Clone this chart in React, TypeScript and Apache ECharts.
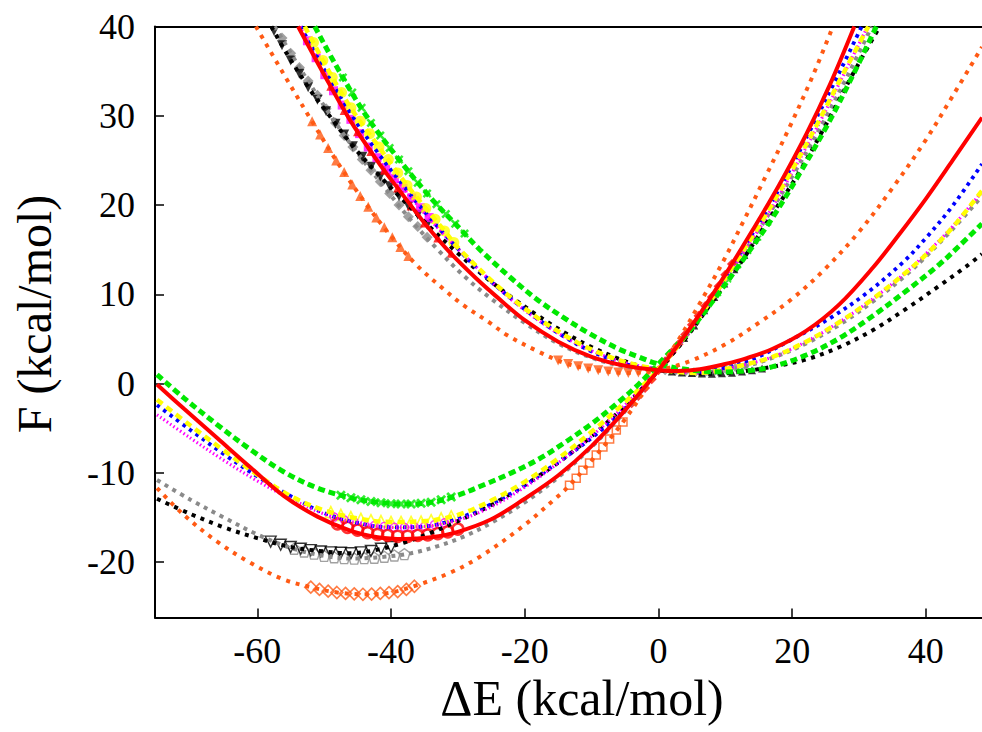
import React, { useEffect, useRef } from 'react';
import * as echarts from 'echarts';

const xTicks = [-60, -40, -20, 0, 20, 40];
const yTicks = [-20, -10, 0, 10, 20, 30, 40];

// ---- curves: A = right-minimum state, B = left-minimum state ----
const grayA = [[-57.4,40],[-53,34.6],[-49,30.0],[-45.5,26.3],[-41,22.0],[-37,18.3],[-33,15.0],[-29,12.0],[-25,9.5],[-20,6.8],[-15,4.5],[-10,2.9],[-5,1.9],[0,1.5],[6,1.2],[12.2,1.8],[17.1,2.9],[22.1,4.5],[27.1,6.6],[32.1,9.2],[37.1,12.2],[40.1,14.3],[44,17.3],[48.4,21.0]];
const grayB = [[-75,-10.8],[-70,-13.0],[-65,-15.0],[-60,-16.9],[-55,-18.4],[-50,-19.3],[-45.5,-19.6],[-41,-19.4],[-37,-19.0],[-33,-18.2],[-29,-17.1],[-25,-15.6],[-20,-13.3],[-15,-10.5],[-10,-7.1],[-5,-3.1],[0,1.5],[4.0,5.2],[7.6,9.0],[11.8,13.6],[16.2,18.6],[20.4,23.7],[24.6,29.2],[28.3,34.5],[31.9,40]];
const blackA = [[-57.9,40],[-55.7,37.1],[-52,32.8],[-49.7,30.5],[-45.7,26.6],[-42,23.5],[-38,20.4],[-34,17.4],[-30,14.6],[-26,12.0],[-22,9.7],[-18,7.6],[-14,5.7],[-10,4.1],[-6,2.8],[-3,2.0],[0,1.5],[4,1.2],[8,1.1],[12,1.3],[17.1,1.9],[22.1,2.7],[27.1,4.1],[32.1,6.0],[37.1,8.4],[42.1,11.0],[46,13.1],[48.4,14.5]];
const blackB = [[-75,-12.9],[-70,-14.6],[-65,-16.1],[-60,-17.3],[-55,-18.3],[-50,-18.8],[-46,-19.0],[-42,-18.6],[-38,-17.8],[-34,-16.7],[-30,-15.4],[-26,-14.0],[-22,-12.3],[-18,-10.4],[-14,-8.3],[-10,-5.9],[-6,-3.2],[-3,-1.0],[0,1.5],[4.1,5.1],[7.7,8.8],[12.1,13.3],[16.6,18.5],[21.0,23.6],[25.2,29.2],[29.1,34.7],[33.1,40]];
const blueA = [[-53.5,40],[-50,35.2],[-46,30.2],[-42,25.9],[-38,22.0],[-34,18.4],[-30,15.1],[-26,12.1],[-22,9.5],[-18,7.2],[-14,5.2],[-10,3.6],[-5,2.2],[0,1.6],[5,1.3],[10,1.8],[14.6,2.9],[19.6,4.8],[25.6,7.3],[31.1,10.1],[36.6,13.6],[40,16.3],[44,19.9],[48.4,24.6]];
const blueB = [[-75,-2.4],[-70,-5.2],[-65,-7.9],[-60,-10.4],[-55,-12.6],[-50,-14.5],[-45,-15.6],[-40,-16.1],[-35,-16.0],[-30,-15.1],[-25,-13.5],[-20,-11.4],[-15,-8.8],[-10,-6.1],[-5,-2.8],[0,1.6],[3.8,5.2],[7.2,8.8],[11.2,13.4],[15.3,18.3],[19.4,23.6],[23.2,29.1],[26.9,34.6],[30.4,40]];
const magentaA = [[-53.6,40],[-49.2,33.6],[-43.7,26.8],[-38.2,21.9],[-33.7,18.0],[-28,13.6],[-21,8.8],[-14,5.2],[-7,2.8],[0,1.6],[6,1.2],[12.2,2.0],[17.1,3.0],[22.1,4.7],[27.1,6.9],[32.1,9.5],[37.1,12.5],[40.1,14.6],[44,17.6],[48.4,21.5]];
const magentaB = [[-75,-3.5],[-70,-6.1],[-65,-8.6],[-60,-10.9],[-55,-12.9],[-50,-14.6],[-45,-15.6],[-40,-16.1],[-35,-16.0],[-30,-15.3],[-25,-13.8],[-20,-11.6],[-15,-8.9],[-10,-5.9],[-5,-2.4],[0,1.6],[3.9,5.1],[7.4,8.7],[11.5,13.3],[15.8,18.2],[19.9,23.5],[24.0,29.1],[27.7,34.6],[31.3,40]];
const yellowA = [[-52.9,40],[-48.4,33.8],[-45.4,30.2],[-42.2,26.9],[-39.2,23.8],[-36.2,20.9],[-32.2,17.3],[-29.7,15.0],[-22,9.6],[-14,5.4],[-7,2.9],[0,1.6],[6,1.2],[12.2,2.0],[17.1,3.0],[22.1,4.7],[27.1,6.9],[32.1,9.5],[37.1,12.5],[40.1,14.5],[44,17.5],[48.4,21.6]];
const yellowB = [[-75,-1.8],[-70,-4.7],[-65,-7.5],[-60,-10.2],[-55,-12.6],[-50,-14.2],[-45,-15.1],[-40,-15.5],[-35,-15.4],[-30,-14.7],[-25,-13.1],[-20,-11.0],[-15,-8.4],[-10,-5.4],[-5,-2.1],[0,1.6],[3.8,5.1],[7.2,8.6],[11.2,13.2],[15.4,18.1],[19.5,23.3],[23.7,29.0],[27.7,34.8],[31.4,40]];
const greenA = [[-51.4,40],[-48.2,35.6],[-43.7,30.0],[-38.7,25.0],[-33.7,20.5],[-30,17.6],[-26.7,15.0],[-22,11.8],[-18.3,9.5],[-14,7.3],[-10.3,5.6],[-6,3.9],[-3,3.0],[0,2.2],[5,1.5],[10,1.3],[14,1.5],[17.1,1.9],[22.1,3.2],[27.1,5.1],[32.1,7.6],[37.1,10.4],[42.1,13.4],[45.1,15.5],[48.4,17.9]];
const greenB = [[-75,1.0],[-71,-1.6],[-66,-4.6],[-61,-7.4],[-56,-9.9],[-51,-11.7],[-46,-12.8],[-42,-13.3],[-38,-13.5],[-34,-13.3],[-30,-12.5],[-26,-11.3],[-22,-10.0],[-18,-8.5],[-14,-6.6],[-10,-4.5],[-6,-2.1],[-3,-0.1],[0,2.2],[4.3,5.6],[8,9.1],[12.4,13.6],[16.9,18.4],[21.1,23.5],[25.3,29.0],[29,34.4],[32.6,40]];
const orangeA = [[-60.2,40],[-56,34.6],[-52,29.6],[-48.2,25.0],[-44.2,20.6],[-40.2,16.7],[-36.2,13.3],[-32,10.5],[-29.2,8.8],[-25,6.7],[-22.8,5.5],[-18,3.6],[-14,2.3],[-10,1.6],[-5,1.2],[0,1.5],[5,2.6],[10,4.4],[15,6.8],[20,9.5],[25,12.9],[30,17.0],[35,21.9],[40,27.3],[44,32.2],[48.4,37.7]];
const orangeB = [[-75,-11.7],[-71,-14.7],[-66,-17.7],[-61.2,-20.0],[-56.2,-21.9],[-52,-22.8],[-48,-23.4],[-44,-23.6],[-40,-23.4],[-36.2,-22.6],[-31.2,-21.2],[-26.7,-19.4],[-20.3,-16.0],[-15.3,-12.8],[-13.3,-11.4],[-9.3,-8.0],[-5.3,-4.3],[0,1.5],[3,4.9],[6.2,9.0],[9.7,13.7],[12.6,18.0],[16.1,23.3],[19.6,28.7],[23.1,34.5],[26.1,40]];
const redA = [[-53.9,40],[-50,34.6],[-46.2,29.6],[-42,24.9],[-38.7,21.6],[-35,18.0],[-31.2,14.7],[-27,11.6],[-24.3,9.8],[-20,7.1],[-15,4.7],[-10,3.0],[-5,2.0],[0,1.5],[3,1.4],[6.2,1.6],[10,2.2],[13,2.8],[17.1,3.9],[22.1,5.9],[27.1,8.9],[32.1,13.0],[36,16.7],[40,20.7],[44,25.0],[48.4,29.8]];
const redB = [[-75,-0.1],[-71,-2.8],[-66,-6.1],[-61,-9.4],[-56,-12.6],[-51,-14.9],[-46,-16.5],[-42,-17.2],[-38,-17.4],[-34,-17.2],[-30,-16.6],[-25,-15.2],[-20,-12.9],[-15,-10.3],[-10,-7.0],[-5,-3.0],[0,1.5],[3,4.4],[6.2,7.8],[10,12.2],[14.1,17.2],[18.1,22.3],[22.1,27.9],[25.6,33.4],[29.3,40]];

// ---- sampled points (markers) ----
const blackA_mk = [[-57.5,39.5],[-56.3,37.9],[-55,36.2],[-53.7,34.7],[-52.4,33.2],[-51,31.8],[-49.7,30.5],[-48.3,29.1],[-47,27.9],[-45.7,26.6],[-44.3,25.4],[-43,24.3],[-41.6,23.2],[-40.2,22.1],[-38.8,21.0],[-37.4,19.9],[-36,18.9],[-34.6,17.8]];
const grayA_mk = [[-56.3,38.7],[-55,37.0],[-53.7,35.4],[-52.4,33.9],[-51,32.3],[-49.7,30.8],[-48.3,29.2],[-47,27.8],[-45.7,26.5],[-44.3,25.1],[-43,23.9],[-41.6,22.6],[-40.2,21.3],[-38.8,20.0],[-37.4,18.7],[-36,17.6],[-34.6,16.4]];
const orangeA_mk = [[-51.8,29.4],[-50.6,27.9],[-49.4,26.4],[-48.2,25.0],[-47,23.7],[-45.8,22.3],[-44.6,21.0],[-43.4,19.8],[-42.2,18.6],[-41,17.5],[-39.8,16.4],[-38.6,15.3],[-37.4,14.3]];
const magentaA_mk = [[-52.5,38.4],[-51.2,36.5],[-49.9,34.6],[-48.6,32.8],[-47.3,31.2],[-46,29.6],[-44.7,28.0],[-43.4,26.5],[-42.1,25.3],[-40.8,24.1],[-39.5,23.0],[-38.2,21.9],[-36.9,20.8],[-35.6,19.7],[-34.3,18.6]];
const yellowA_mk = [[-51.6,38.2],[-50.2,36.2],[-48.8,34.3],[-47.4,32.6],[-46,30.9],[-44.6,29.4],[-43.2,28.0],[-41.8,26.5],[-40.4,25.1],[-39,23.6],[-37.6,22.2],[-36.2,20.9],[-34.8,19.6],[-33.4,18.4],[-32,17.1],[-30.6,15.8]];
const greenA_mk = [[-47.2,34.3],[-45.8,32.6],[-44.4,30.9],[-43,29.2],[-41.6,27.8],[-40.2,26.4],[-38.8,25.1],[-37.4,23.8],[-36,22.5],[-34.6,21.3],[-33.2,20.1],[-31.8,19.0],[-30.4,17.9],[-29,16.8]];
const redA_mk = [[-49,33.3],[-47,30.6],[-45,28.2],[-43,26.0],[-41,23.9],[-39,21.9],[-37,19.9],[-35,18.0],[-33,16.3],[-31,14.6]];

const greenB_mk = [[-47.5,-12.5],[-46,-12.8],[-44.5,-13.0],[-43,-13.2],[-41.5,-13.35],[-40,-13.45],[-38.5,-13.5],[-37,-13.5],[-35.5,-13.4],[-34,-13.3],[-32.5,-13.0],[-31,-12.7]];
const yellowB_mk = [[-49,-14.4],[-47.5,-14.7],[-46,-14.95],[-44.5,-15.15],[-43,-15.3],[-41.5,-15.4],[-40,-15.5],[-38.5,-15.5],[-37,-15.5],[-35.5,-15.45],[-34,-15.3],[-32.5,-15.1],[-31,-14.85]];
const magentaB_mk = [[-48.5,-14.95],[-47,-15.25],[-45.5,-15.5],[-44,-15.75],[-42.5,-15.9],[-41,-16.0],[-39.5,-16.1],[-38,-16.1],[-36.5,-16.05],[-35,-16.0],[-33.5,-15.8],[-32,-15.6]];
const redB_mk = [[-48,-15.7],[-46.5,-16.1],[-45,-16.4],[-43.5,-16.7],[-42,-16.9],[-40.5,-17.0],[-39,-17.1],[-37.5,-17.1],[-36,-17.0],[-34.5,-16.95],[-33,-16.8],[-31.5,-16.6],[-30,-16.3]];
const blackB_mk = [[-58,-17.7],[-56.5,-18.05],[-55,-18.3],[-53.5,-18.5],[-52,-18.65],[-50.5,-18.8],[-49,-18.9],[-47.5,-18.95],[-46,-19.0],[-44.5,-18.9],[-43,-18.75],[-41.5,-18.5],[-40,-18.3]];
const grayB_mk = [[-54.5,-18.5],[-53,-18.8],[-51.5,-19.05],[-50,-19.3],[-48.5,-19.45],[-47,-19.55],[-45.5,-19.6],[-44,-19.55],[-42.5,-19.5],[-41,-19.4],[-39.5,-19.25],[-38,-19.1]];
const orangeB_mk = [[-52,-22.8],[-50.7,-23.05],[-49.4,-23.25],[-48.1,-23.4],[-46.8,-23.5],[-45.5,-23.55],[-44.2,-23.6],[-42.9,-23.58],[-41.6,-23.5],[-40.3,-23.42],[-39,-23.3],[-37.7,-23.05],[-36.5,-22.7]];

const orangeB_sq = [[-13.3,-11.4],[-12.3,-10.6],[-11.3,-9.7],[-10.3,-8.9],[-9.3,-8.0],[-8.3,-7.1],[-7.3,-6.2],[-6.3,-5.2],[-5.3,-4.3]];
const orangeA_tri = [[-15,2.6],[-13.5,2.2],[-12,1.95],[-10.5,1.7],[-9,1.5],[-7.5,1.35],[-6,1.25],[-4.5,1.2],[-3,1.25],[-1.5,1.35]];
const blackA_tri = [[2,1.35],[3.5,1.25],[5,1.18],[6.5,1.12],[8,1.1],[9.5,1.15],[11,1.22],[12.5,1.35],[14,1.5],[15.5,1.7]];
const grayA_dia = [[1,1.45],[2.5,1.35],[4,1.27],[5.5,1.22],[7,1.25],[8.5,1.4],[10,1.6],[11.5,1.8],[13,2.0]];
const redB_dia = [[-4,-2.2],[-3,-1.4],[-2,-0.5],[-1,0.5],[0,1.5],[1,2.5],[2,3.5],[3,4.4],[4,5.5],[5,6.6],[6,7.6],[7,8.7],[8,9.7],[9,10.9],[10,12.2],[11,13.4]];
const blackB_small = [[4,5.0],[5.5,6.4],[7,8.1],[8.5,9.6],[10,11.1],[11.5,12.7],[13,14.3],[14.5,16.0]];
const greenB_small = [[9,10.1],[10.5,11.6],[12,13.2],[13.5,14.8],[15,16.3],[16.5,18.0]];

const C = {
  black: '#000000',
  gray: '#8a8a8a',
  orange: '#ff5a14',
  green: '#00e800',
  yellow: '#ffff00',
  magenta: '#ff00ff',
  blue: '#0000ff',
  red: '#ff0000',
};

const FONT = '"Liberation Serif", "Times New Roman", Times, serif';
const X_PATH = 'path://M2,0L5,3L8,0L10,2L7,5L10,8L8,10L5,7L2,10L0,8L3,5L0,2Z';
const PENT_PATH = 'path://M5,0L10,3.8L8.1,10L1.9,10L0,3.8Z';

function line(data: number[][], color: string, width: number, dash: any) {
  return {
    type: 'line',
    data,
    smooth: 0.35,
    symbol: 'none',
    silent: true,
    lineStyle: { color, width, type: dash, cap: 'butt' },
  };
}

function marks(data: number[][], symbol: string, size: number, color: string, hollow = false, rotate = 0, bw = 1.4) {
  return {
    type: 'scatter',
    data,
    symbol,
    symbolSize: size,
    symbolRotate: rotate,
    silent: true,
    itemStyle: hollow
      ? { color: 'rgba(255,255,255,0)', borderColor: color, borderWidth: bw }
      : { color, borderWidth: 0 },
  };
}

export default function App() {
  const ref = useRef<HTMLDivElement>(null);
  useEffect(() => {
    if (!ref.current) return;
    const chart = echarts.init(ref.current, null, { renderer: 'svg' });
    const option: any = {
      animation: false,
      backgroundColor: '#ffffff',
      textStyle: { fontFamily: FONT },
      grid: { left: 155, right: 0, top: 26.5, bottom: 114.5, containLabel: false },
      xAxis: [
        {
          type: 'value',
          min: -75.3,
          max: 48.4,
          position: 'bottom',
          axisLine: { show: true, onZero: false, lineStyle: { color: '#000', width: 2 } },
          axisTick: { show: true, inside: true, length: 9, lineStyle: { color: '#000', width: 1.5 }, customValues: xTicks },
          axisLabel: { show: true, customValues: xTicks, margin: 15, color: '#000', fontFamily: FONT, fontSize: 36, lineHeight: 36 },
          splitLine: { show: false },
        },
        {
          type: 'value',
          min: -75.3,
          max: 48.4,
          position: 'top',
          axisLine: { show: true, onZero: false, lineStyle: { color: '#000', width: 2 } },
          axisTick: { show: false },
          axisLabel: { show: false },
          splitLine: { show: false },
        },
      ],
      yAxis: {
        type: 'value',
        min: -26.2,
        max: 40,
        axisLine: { show: true, onZero: false, lineStyle: { color: '#000', width: 2 } },
        axisTick: { show: true, inside: true, length: 9, lineStyle: { color: '#000', width: 1.5 }, customValues: yTicks },
        axisLabel: { show: true, customValues: yTicks, margin: 20, color: '#000', fontFamily: FONT, fontSize: 36 },
        splitLine: { show: false },
      },
      graphic: [
        {
          type: 'text',
          x: 582,
          y: 698,
          silent: true,
          style: {
            text: 'ΔE (kcal/mol)',
            fontFamily: FONT,
            fontSize: 50,
            fill: '#000',
            align: 'center',
            verticalAlign: 'middle',
            textAlign: 'center',
            textVerticalAlign: 'middle',
          },
        },
        {
          type: 'text',
          x: 34,
          y: 314,
          rotation: Math.PI / 2,
          silent: true,
          style: {
            text: 'F (kcal/mol)',
            fontFamily: FONT,
            fontSize: 48,
            fill: '#000',
            align: 'center',
            verticalAlign: 'middle',
            textAlign: 'center',
            textVerticalAlign: 'middle',
          },
        },
      ],
      series: [
        line(grayA, C.gray, 4, [4, 5]),
        line(grayB, C.gray, 4, [4, 5]),
        line(blackA, C.black, 4, [4, 5.5]),
        line(blackB, C.black, 4, [4, 5.5]),
        line(blueA, C.blue, 3.8, [3.5, 4.5]),
        line(blueB, C.blue, 3.8, [3.5, 4.5]),
        line(magentaA, C.magenta, 3.2, [1.5, 2.5]),
        line(magentaB, C.magenta, 3.2, [1.5, 2.5]),
        line(yellowA, C.yellow, 4.5, [7, 5]),
        line(yellowB, C.yellow, 4.5, [7, 5]),
        line(greenA, C.green, 5, [7, 4]),
        line(greenB, C.green, 5, [7, 4]),
        line(orangeA, C.orange, 4, [4, 6]),
        line(orangeB, C.orange, 4, [4, 6]),

        marks(grayA_mk, 'diamond', 11, C.gray),
        marks(blackA_mk, 'triangle', 10, C.black, false, 180),
        marks(orangeA_mk, 'triangle', 10, C.orange),
        marks(magentaA_mk, 'rect', 9, C.magenta),
        marks(yellowA_mk, 'circle', 11, C.yellow),
        marks(greenA_mk, X_PATH, 9, C.green),
        marks(redA_mk, 'triangle', 9, C.red),

        marks(grayB_mk, PENT_PATH, 11, C.gray, true),
        marks(blackB_mk, 'triangle', 11, C.black, true, 180),
        marks(orangeB_mk, 'diamond', 12, C.orange, true, 0, 1.6),
        marks(greenB_mk, X_PATH, 10, C.green),
        marks(yellowB_mk, 'triangle', 11, C.yellow, true, 0, 1.6),
        marks(magentaB_mk, 'circle', 8, C.magenta, true),
        marks(redB_mk, 'circle', 11, C.red, true, 0, 2.6),

        marks(orangeB_sq, 'rect', 8, C.orange, true, 0, 1.5),
        marks(orangeA_tri, 'triangle', 10, C.orange, false, 180),
        marks(grayA_dia, 'diamond', 9, C.gray),
        marks(blackA_tri, 'triangle', 8, C.black),
        marks(blackB_small, 'triangle', 6, C.black),
        marks(greenB_small, X_PATH, 6, C.green),

        line(redA, C.red, 4, 'solid'),
        line(redB, C.red, 4, 'solid'),
        marks(redB_dia, 'diamond', 10, C.red),
      ],
    };
    chart.setOption(option);
    return () => chart.dispose();
  }, []);
  return (
    <div
      ref={ref}
      style={{ position: 'fixed', left: 0, top: 0, width: 982, height: 732, background: '#fff' }}
    />
  );
}
